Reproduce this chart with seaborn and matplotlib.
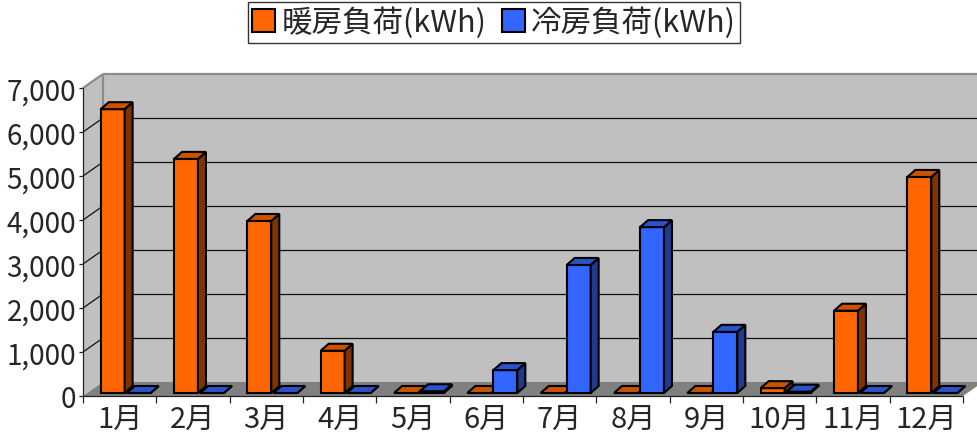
import matplotlib
matplotlib.use("Agg")
import matplotlib.pyplot as plt
import seaborn as sns
import pandas as pd
from matplotlib.patches import Polygon, Patch, Rectangle
from matplotlib.lines import Line2D
from matplotlib.transforms import IdentityTransform, ScaledTranslation

# ---- data ----
months = ["1月", "2月", "3月", "4月", "5月", "6月", "7月", "8月", "9月", "10月", "11月", "12月"]
heating = [6450, 5320, 3910, 960, 0, 0, 0, 0, 0, 110, 1870, 4910]
cooling = [0, 0, 0, 0, 40, 520, 2910, 3770, 1390, 30, 0, 0]
series_names = ["暖房負荷(kWh)", "冷房負荷(kWh)"]
yticks = [0, 1000, 2000, 3000, 4000, 5000, 6000, 7000]

ORANGE, ORANGE_SIDE, ORANGE_TOP = "#FF6600", "#7F3300", "#CC5200"
BLUE, BLUE_SIDE, BLUE_TOP = "#3366FF", "#1F3A8F", "#2A52CC"

sns.set_style("white")
plt.rcParams["font.family"] = ["Noto Sans CJK JP", "DejaVu Sans"]

df = pd.DataFrame({
    "month": months * 2,
    "series": [series_names[0]] * 12 + [series_names[1]] * 12,
    "value": heating + cooling,
})

W, H = 977, 439
fig = plt.figure(figsize=(W / 100, H / 100), dpi=100)
ax = fig.add_axes([83 / W, 42 / H, 880 / W, 308 / H])

sns.barplot(data=df, x="month", y="value", hue="series", order=months,
            hue_order=series_names, palette=[ORANGE, BLUE], saturation=1,
            width=0.71, gap=0.08, edgecolor="black", linewidth=1.5,
            errorbar=None, legend=False, ax=ax)
bars = [p for p in ax.patches if isinstance(p, Rectangle)]

ax.set_xlim(-0.5, 11.5)
ax.set_ylim(0, 7000)
ax.patch.set_visible(False)
for s in ax.spines.values():
    s.set_visible(False)
ax.set_xlabel("")
ax.set_ylabel("")

WD = (20, 14)   # wall depth (px)
BP = (6, 3)     # bar plane offset (px)
BD = (8, 7)     # bar depth (px)


def P(x, y, d=(0, 0), e=(0, 0)):
    X, Y = ax.transData.transform((x, y))
    return (X + d[0] + e[0], Y + d[1] + e[1])


def poly(pts, fc, ec="none", lw=0, z=0):
    p = Polygon(pts, closed=True, facecolor=fc, edgecolor=ec, linewidth=lw,
                transform=IdentityTransform(), clip_on=False, zorder=z, joinstyle="miter")
    ax.add_artist(p)
    return p


def line(p1, p2, color, lw, z):
    l = Line2D([p1[0], p2[0]], [p1[1], p2[1]], color=color, linewidth=lw,
               transform=IdentityTransform(), clip_on=False, zorder=z, solid_capstyle="butt")
    ax.add_artist(l)


xr = 11.5 + 0.3
# back wall
poly([P(-0.5, 0, WD), P(xr, 0, WD), P(xr, 7000, WD), P(-0.5, 7000, WD)], "#C0C0C0", z=0.1)
# left wall
poly([P(-0.5, 0), P(-0.5, 7000), P(-0.5, 7000, WD), P(-0.5, 0, WD)], "#C0C0C0", z=0.1)
# gridlines on walls
for v in yticks[1:-1]:
    line(P(-0.5, v, WD), P(xr, v, WD), "#111111", 0.9, 0.3)
    line(P(-0.5, v), P(-0.5, v, WD), "#111111", 0.9, 0.3)
# floor
poly([P(-0.5, 0), P(11.5, 0), P(11.5, 0, WD), P(xr, 0, WD), P(-0.5, 0, WD)], "#808080", z=0.4)
# wall borders
line(P(-0.5, 7000), P(-0.5, 7000, WD), "#8C8C8C", 1.6, 0.5)
line(P(-0.5, 7000, WD), P(xr, 7000, WD), "#8C8C8C", 1.6, 0.5)
line(P(-0.5, 0, WD), P(-0.5, 7000, WD), "#8C8C8C", 1.6, 0.5)
# front axis lines
line(P(-0.5, 0), P(-0.5, 7000), "#222222", 0.9, 0.6)
line(P(-0.5, 0), P(11.5, 0), "#222222", 0.9, 0.6)

# 3D bars built from seaborn's bar patches (first series, then second)
off = ScaledTranslation(BP[0] / 100, BP[1] / 100, fig.dpi_scale_trans)
n = len(months)
for i, r in enumerate(bars):
    is_orange = i < n
    side, top = (ORANGE_SIDE, ORANGE_TOP) if is_orange else (BLUE_SIDE, BLUE_TOP)
    z = 3 if is_orange else 4
    x0, w, h = r.get_x(), r.get_width(), r.get_height()
    r.set_transform(ax.transData + off)
    r.set_zorder(z)
    r.set_clip_on(False)
    r.set_joinstyle("miter")
    poly([P(x0 + w, 0, BP), P(x0 + w, h, BP), P(x0 + w, h, BP, BD), P(x0 + w, 0, BP, BD)],
         side, "black", 1.5, z)
    poly([P(x0, h, BP), P(x0 + w, h, BP), P(x0 + w, h, BP, BD), P(x0, h, BP, BD)],
         top, "black", 1.5, z)

# ticks
ax.set_yticks(yticks)
ax.set_yticklabels([f"{v:,}" for v in yticks], fontsize=20)
ax.set_xticks(range(12))
ax.set_xticklabels(months, fontsize=21)
ax.set_xticks([i - 0.5 for i in range(13)], minor=True)
ax.tick_params(axis="y", which="major", left=True, length=3, width=0.9, color="#222222", pad=2)
ax.tick_params(axis="x", which="major", bottom=False, length=0, pad=6)
ax.tick_params(axis="x", which="minor", bottom=True, length=5, width=0.9, color="#222222")

handles = [Patch(facecolor=ORANGE, edgecolor="black", linewidth=1.5),
           Patch(facecolor=BLUE, edgecolor="black", linewidth=1.5)]
leg = fig.legend(handles, series_names, loc="upper center",
                 bbox_to_anchor=(494 / W, 1 - 3 / H), ncol=2, frameon=True, fancybox=False,
                 edgecolor="black", fontsize=22, handlelength=0.75, handleheight=0.75,
                 handletextpad=0.2, columnspacing=0.5, borderpad=0.15, borderaxespad=0)
leg.get_frame().set_linewidth(1.0)

fig.savefig("out.png", dpi=100, facecolor="white")
